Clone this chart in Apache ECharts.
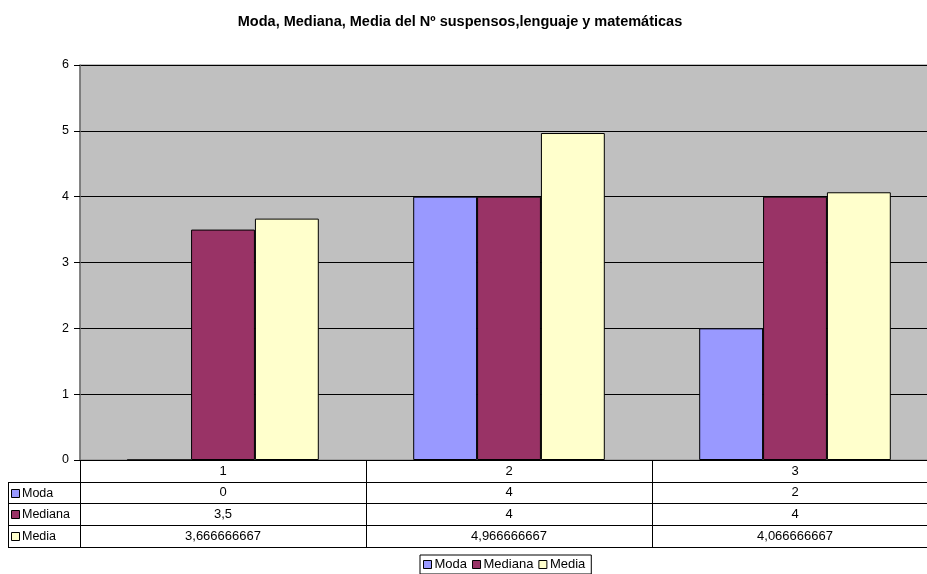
<!DOCTYPE html>
<html>
<head>
<meta charset="utf-8">
<script src="https://cdn.jsdelivr.net/npm/echarts@6/dist/echarts.min.js"></script>
<style>
  html, body { margin: 0; padding: 0; background: #fff; }
  #chart { width: 927px; height: 574px; }
</style>
</head>
<body>
<div id="chart"></div>
<script>
// Categories and series values
const categories = ['1', '2', '3'];
const moda = [0, 4, 2];
const mediana = [3.5, 4, 4];
const media = [3.666666667, 4.966666667, 4.066666667];
const seriesNames = ['Moda', 'Mediana', 'Media'];
const seriesColors = ['#9999FF', '#993366', '#FFFFCC'];
const yTicks = [0, 1, 2, 3, 4, 5, 6];

const FONT = '"Liberation Sans", Arial, sans-serif';
const fmt = v => String(v).replace('.', ',');

const chart = echarts.init(document.getElementById('chart'), null, { renderer: 'canvas' });

const seriesData = [moda, mediana, media];

const option = {
  animation: false,
  backgroundColor: '#ffffff',
  title: {
    text: 'Moda, Mediana, Media del Nº suspensos,lenguaje y matemáticas',
    left: 455,
    top: 9,
    textAlign: 'center',
    textStyle: { fontFamily: FONT, fontSize: 14.5, fontWeight: 'bold', color: '#000' }
  },
  legend: {
    data: seriesNames,
    left: 420,
    top: 555,
    padding: [3, 6, 3, 3],
    itemWidth: 8,
    itemHeight: 8,
    itemGap: 5,
    icon: 'rect',
    borderColor: '#000',
    borderWidth: 1,
    itemStyle: { borderColor: '#000', borderWidth: 1 },
    textStyle: { fontFamily: FONT, fontSize: 13, color: '#000', padding: [0, 0, 0, -2] }
  },
  grid: {
    left: 80,
    top: 65,
    width: 858,
    bottom: 114,
    outerBoundsMode: 'none',
    show: true,
    backgroundColor: '#C0C0C0',
    borderColor: '#808080',
    borderWidth: 1
  },
  xAxis: {
    type: 'category',
    data: categories,
    axisLine: { lineStyle: { color: '#000', width: 1 } },
    axisTick: { show: false },
    axisLabel: { margin: 5, fontFamily: FONT, fontSize: 13, color: '#000' }
  },
  yAxis: {
    type: 'value',
    min: yTicks[0],
    max: yTicks[yTicks.length - 1],
    interval: 1,
    axisLine: { show: true, lineStyle: { color: '#707070', width: 1.5 } },
    axisTick: { show: true, length: 6, lineStyle: { color: '#000' } },
    axisLabel: { margin: 11, fontFamily: FONT, fontSize: 12.5, color: '#000' },
    splitLine: { show: true, lineStyle: { color: '#000', width: 1 } }
  },
  series: seriesNames.map((name, i) => ({
    name: name,
    type: 'bar',
    data: seriesData[i],
    barGap: '0%',
    barCategoryGap: '33%',
    itemStyle: { color: seriesColors[i], borderColor: '#000', borderWidth: 1 }
  }))
};

chart.setOption(option);

// Data table under the plot, positioned from the category axis and value axis
function buildTable() {
  const y0 = chart.convertToPixel({ yAxisIndex: 0 }, 0);
  const centers = categories.map(c => chart.convertToPixel({ xAxisIndex: 0 }, c));
  const band = centers.length > 1 ? centers[1] - centers[0] : 280;
  const gridLeft = centers[0] - band / 2;
  const rowH = 21.7;
  const tableLeft = 8;
  const right = 940;
  const bottom = y0 + rowH * 4;
  const els = [];
  const lineStyle = { stroke: '#000', lineWidth: 1 };
  const r = v => Math.round(v) + 0.5;

  // horizontal rules under the header row and each data row
  for (let i = 1; i <= 4; i++) {
    const y = r(y0 + rowH * i);
    els.push({ type: 'line', shape: { x1: tableLeft, y1: y, x2: right, y2: y }, style: lineStyle, silent: true });
  }
  // left edge of the row header column
  els.push({ type: 'line', shape: { x1: r(tableLeft), y1: r(y0 + rowH), x2: r(tableLeft), y2: r(bottom) }, style: lineStyle, silent: true });
  // column boundaries
  const bounds = [gridLeft];
  for (let i = 0; i < centers.length - 1; i++) bounds.push((centers[i] + centers[i + 1]) / 2);
  bounds.forEach(x => {
    els.push({ type: 'line', shape: { x1: r(x), y1: r(y0), x2: r(x), y2: r(bottom) }, style: lineStyle, silent: true });
  });

  // row headers with colour keys and values
  seriesNames.forEach((name, i) => {
    const cy = y0 + rowH * (i + 1) + rowH / 2;
    els.push({
      type: 'rect',
      shape: { x: 11.5, y: Math.round(cy - 4) + 0.5, width: 8, height: 8 },
      style: { fill: seriesColors[i], stroke: '#000', lineWidth: 1 },
      silent: true
    });
    els.push({
      type: 'text',
      x: 22, y: cy + 0.5,
      style: { text: name, fill: '#000', font: '12.5px ' + FONT, textAlign: 'left', textVerticalAlign: 'middle' },
      silent: true
    });
    seriesData[i].forEach((v, j) => {
      els.push({
        type: 'text',
        x: centers[j], y: cy,
        style: { text: fmt(v), fill: '#000', font: '13px ' + FONT, textAlign: 'center', textVerticalAlign: 'middle' },
        silent: true
      });
    });
  });

  chart.setOption({ graphic: els });
}

buildTable();
</script>
</body>
</html>
